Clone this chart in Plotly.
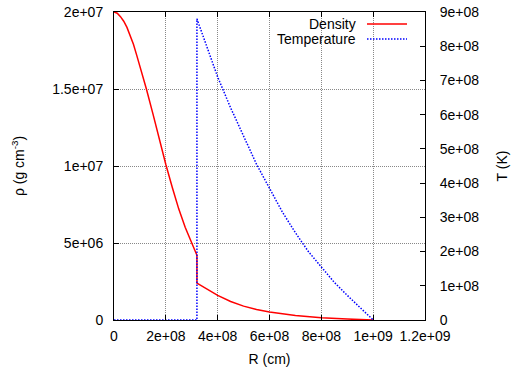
import plotly.graph_objects as go

# Density profile (R in cm, rho in g cm^-3)
R_rho = [0, 0.125e8, 0.25e8, 0.375e8, 0.5e8, 0.625e8, 0.75e8, 0.875e8, 1.0e8, 1.25e8,
         1.5e8, 1.75e8, 2.0e8, 2.25e8, 2.5e8, 2.75e8, 3.0e8, 3.2e8, 3.2e8, 3.5e8,
         4.0e8, 4.5e8, 5.0e8, 5.5e8, 6.0e8, 7.0e8, 8.0e8, 9.0e8, 1.0e9]
rho = [2.0e7, 1.992e7, 1.97e7, 1.94e7, 1.90e7, 1.85e7, 1.79e7, 1.72e7, 1.65e7, 1.50e7,
       1.34e7, 1.17e7, 1.01e7, 0.86e7, 0.72e7, 0.60e7, 0.495e7, 0.42e7, 0.24e7, 0.208e7,
       0.16e7, 0.12e7, 0.09e7, 0.068e7, 0.052e7, 0.030e7, 0.015e7, 0.006e7, 0.0]

# Temperature profile (R in cm, T in K)
R_T = [0, 3.2e8, 3.2e8, 3.5e8, 4.0e8, 4.5e8, 5.0e8, 5.5e8, 6.0e8, 6.5e8,
       7.0e8, 7.5e8, 8.0e8, 8.5e8, 9.0e8, 9.5e8, 1.0e9]
T = [0, 0, 8.8e8, 8.15e8, 7.1e8, 6.2e8, 5.35e8, 4.55e8, 3.85e8, 3.15e8,
     2.55e8, 2.0e8, 1.55e8, 1.1e8, 0.72e8, 0.35e8, 0.0]

x_ticks = [0, 2e8, 4e8, 6e8, 8e8, 1e9, 1.2e9]
x_labels = ["0", "2e+08", "4e+08", "6e+08", "8e+08", "1e+09", "1.2e+09"]
y_ticks = [0, 5e6, 1e7, 1.5e7, 2e7]
y_labels = ["0", "5e+06", "1e+07", "1.5e+07", "2e+07"]
y2_ticks = [0, 1e8, 2e8, 3e8, 4e8, 5e8, 6e8, 7e8, 8e8, 9e8]
y2_labels = ["0", "1e+08", "2e+08", "3e+08", "4e+08", "5e+08", "6e+08", "7e+08", "8e+08", "9e+08"]

FONT = "Liberation Sans, Arial, sans-serif"
fig = go.Figure()
fig.add_trace(go.Scatter(x=R_rho, y=rho, mode="lines", name="Density",
                         line=dict(color="#ff0000", width=1.5), yaxis="y", showlegend=False))
fig.add_trace(go.Scatter(x=R_T, y=T, mode="lines", name="Temperature",
                         line=dict(color="#0000ff", width=1.5, dash="1.5px,1.5px"),
                         yaxis="y2", showlegend=False))

L, Rm, Tm, B = 114, 86, 12, 47
W, H = 511, 367
pw, ph = W - L - Rm, H - Tm - B

def px(x):
    return (x - L) / pw

def py(y):
    return (H - B - y) / ph

axis_common = dict(showline=True, linecolor="black", linewidth=1, ticks="inside",
                   ticklen=5, tickcolor="black", zeroline=False, automargin=False,
                   tickfont=dict(family=FONT, size=14, color="black"))

fig.update_layout(
    width=W, height=H, margin=dict(l=L, r=Rm, t=Tm, b=B, pad=0),
    paper_bgcolor="white", plot_bgcolor="white",
    font=dict(family=FONT, size=14, color="black"),
    xaxis=dict(range=[0, 1.2e9], tickvals=x_ticks, ticktext=x_labels, mirror="ticks",
               showgrid=True, gridcolor="#888888", griddash="1px,1px", gridwidth=1,
               ticklabelstandoff=3,
               title=dict(text="R (cm)", standoff=11, font=dict(family=FONT, size=14)),
               **axis_common),
    yaxis=dict(range=[0, 2e7], tickvals=y_ticks, ticktext=y_labels,
               showgrid=True, gridcolor="#888888", griddash="1px,1px", gridwidth=1,
               ticklabelstandoff=7,
               title=dict(text="ρ (g cm<sup>-3</sup>)", standoff=24, font=dict(family=FONT, size=14)),
               **axis_common),
    yaxis2=dict(range=[0, 9e8], tickvals=y2_ticks, ticktext=y2_labels, overlaying="y",
                side="right", showgrid=False, ticklabelstandoff=11,
                title=dict(text="T (K)", standoff=18, font=dict(family=FONT, size=14)),
                **axis_common),
    shapes=[
        dict(type="rect", xref="paper", yref="paper", x0=px(263), x1=1.0, y0=py(46), y1=1.0,
             fillcolor="white", line=dict(width=0), layer="between"),
        dict(type="line", xref="paper", yref="paper", x0=px(367), x1=px(407), y0=py(24), y1=py(24),
             line=dict(color="#ff0000", width=1.5)),
        dict(type="line", xref="paper", yref="paper", x0=px(367), x1=px(407), y0=py(39), y1=py(39),
             line=dict(color="#0000ff", width=1.5, dash="1.5px,1.5px")),
    ],
    annotations=[
        dict(text="Density", xref="paper", yref="paper", x=px(358), y=py(24), xanchor="right",
             yanchor="middle", showarrow=False, font=dict(family=FONT, size=14, color="black")),
        dict(text="Temperature", xref="paper", yref="paper", x=px(358), y=py(39), xanchor="right",
             yanchor="middle", showarrow=False, font=dict(family=FONT, size=14, color="black")),
    ],
)

fig.write_html("out.html")
